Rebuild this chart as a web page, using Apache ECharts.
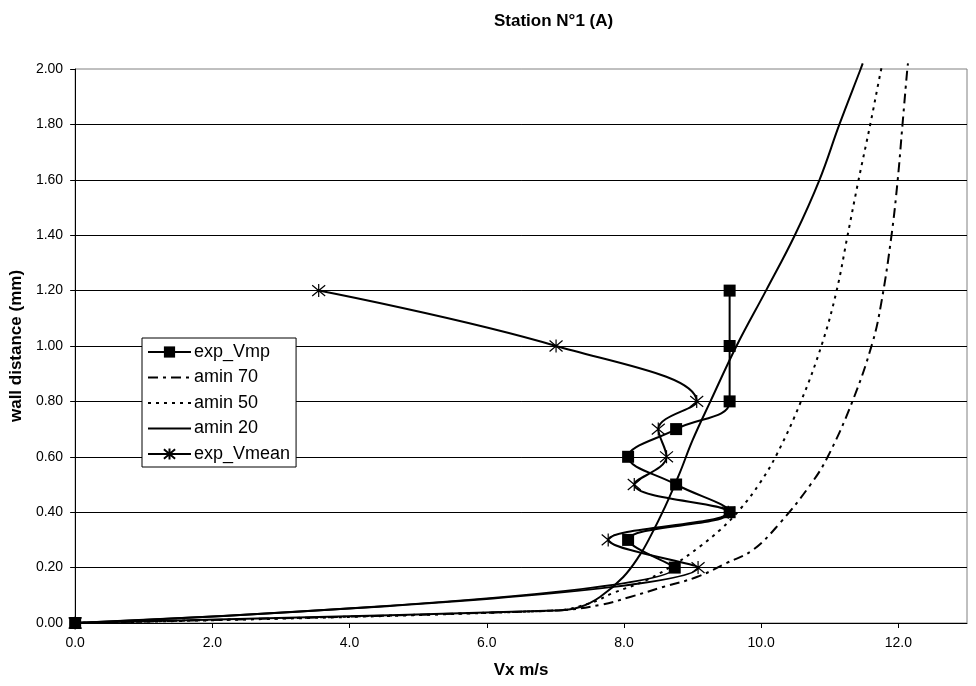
<!DOCTYPE html>
<html>
<head>
<meta charset="utf-8">
<script src="https://cdn.jsdelivr.net/npm/echarts@6/dist/echarts.min.js"></script>
<style>html,body{margin:0;padding:0;background:#fff}#c{width:976px;height:686px}</style>
</head>
<body>
<div id="c"></div>
<script>
// ---- data ----
const xTicks = [0, 2, 4, 6, 8, 10, 12];
const yTicks = [0, 0.2, 0.4, 0.6, 0.8, 1.0, 1.2, 1.4, 1.6, 1.8, 2.0];

const vmpY  = [0, 0.2, 0.3, 0.4, 0.5, 0.6, 0.7, 0.8, 1.0, 1.2];
const vmpX  = [0, 8.74, 8.06, 9.54, 8.76, 8.06, 8.76, 9.54, 9.54, 9.54];

const vmeanY = [0, 0.2, 0.3, 0.4, 0.5, 0.6, 0.7, 0.8, 1.0, 1.2];
const vmeanX = [0, 9.08, 7.77, 9.52, 8.15, 8.62, 8.50, 9.06, 7.01, 3.55];

const a70Y = [0, 0.045, 0.065, 0.094, 0.13, 0.166, 0.217, 0.264, 0.36, 0.5, 0.6, 0.8, 1.01, 1.155, 1.40, 1.60, 1.80, 2.00, 2.02];
const a70X = [0, 7.0, 7.65, 8.09, 8.57, 9.06, 9.50, 9.88, 10.27, 10.72, 10.97, 11.33, 11.62, 11.75, 11.90, 11.99, 12.06, 12.13, 12.14];

const a50Y = [0, 0.045, 0.072, 0.108, 0.155, 0.217, 0.275, 0.336, 0.41, 0.505, 0.61, 0.8, 1.01, 1.20, 1.40, 1.60, 1.80, 2.00, 2.015];
const a50X = [0, 7.0, 7.51, 7.84, 8.33, 8.77, 9.10, 9.40, 9.69, 9.98, 10.23, 10.58, 10.89, 11.10, 11.26, 11.42, 11.59, 11.75, 11.77];

const a20Y = [0, 0.045, 0.058, 0.094, 0.166, 0.245, 0.31, 0.42, 0.54, 0.66, 0.8, 1.00, 1.2, 1.40, 1.60, 1.80, 2.00, 2.02];
const a20X = [0, 7.0, 7.36, 7.65, 7.99, 8.23, 8.38, 8.60, 8.81, 9.00, 9.26, 9.64, 10.07, 10.49, 10.85, 11.14, 11.45, 11.48];

const pairs = (xs, ys) => xs.map((x, i) => [x, ys[i]]);

const FONT = 'Liberation Sans, Arial, sans-serif';
const asterisk = 'path://M0,-6L0,6M-5,-5L5,5M-5,5L5,-5';
const noMarker = {itemStyle: {opacity: 0}};

const chart = echarts.init(document.getElementById('c'), null, {renderer: 'canvas'});
chart.setOption({
  animation: false,
  backgroundColor: '#fff',
  title: {
    text: 'Station N°1 (A)',
    left: 489, top: 8,
    textStyle: {fontFamily: FONT, fontSize: 17, fontWeight: 'bold', color: '#000'}
  },
  grid: {left: 74, right: 9, top: 69, bottom: 63, show: true, borderColor: '#808080', borderWidth: 1, backgroundColor: 'transparent'},
  legend: {
    orient: 'vertical', left: 142, top: 338,
    backgroundColor: '#fff', borderColor: '#000', borderWidth: 1,
    padding: [5, 6, 4, 5], itemGap: 7.5, itemWidth: 43, itemHeight: 14,
    textStyle: {fontFamily: FONT, fontSize: 18, color: '#000', padding: [0,0,0,-2]},
    data: [
      {name: 'exp_Vmp'},
      Object.assign({name: 'amin 70'}, noMarker),
      Object.assign({name: 'amin 50'}, noMarker),
      Object.assign({name: 'amin 20'}, noMarker),
      {name: 'exp_Vmean'}
    ]
  },
  xAxis: {
    type: 'value', min: 0, max: 13, interval: 2,
    name: 'Vx m/s', nameLocation: 'middle', nameGap: 39,
    nameTextStyle: {fontFamily: FONT, fontSize: 17, fontWeight: 'bold', color: '#000'},
    axisLine: {lineStyle: {color: '#000', width: 1}},
    axisTick: {show: true, length: 5, lineStyle: {color: '#000'}, customValues: xTicks},
    axisLabel: {fontFamily: FONT, fontSize: 14, color: '#000', margin: 13, customValues: xTicks,
      formatter: v => v.toFixed(1)},
    splitLine: {show: false}
  },
  yAxis: {
    type: 'value', min: 0, max: 2, interval: 0.2,
    name: 'wall distance (mm)', nameLocation: 'middle', nameGap: 50,
    nameTextStyle: {fontFamily: FONT, fontSize: 17, fontWeight: 'bold', color: '#000'},
    axisLine: {show: true, lineStyle: {color: '#000', width: 1}},
    axisTick: {show: true, length: 5, lineStyle: {color: '#000'}},
    axisLabel: {fontFamily: FONT, fontSize: 14, color: '#000', margin: 12,
      formatter: v => v.toFixed(2)},
    splitLine: {show: true, showMaxLine: false, lineStyle: {color: '#000', width: 1}}
  },
  series: [
    {name: 'exp_Vmp', type: 'line', data: pairs(vmpX, vmpY), smooth: 0.4,
      symbol: 'rect', symbolSize: 12, showSymbol: true,
      lineStyle: {color: '#000', width: 2}, itemStyle: {color: '#000'}, z: 5},
    {name: 'amin 70', type: 'line', data: pairs(a70X, a70Y), smooth: 0.4, showSymbol: false, clip: false,
      lineStyle: {color: '#000', width: 2, type: [10, 5, 3, 5]}, itemStyle: {color: '#000'}},
    {name: 'amin 50', type: 'line', data: pairs(a50X, a50Y), smooth: 0.4, showSymbol: false, clip: false,
      lineStyle: {color: '#000', width: 2, type: [3, 5]}, itemStyle: {color: '#000'}},
    {name: 'amin 20', type: 'line', data: pairs(a20X, a20Y), smooth: 0.4, showSymbol: false, clip: false,
      lineStyle: {color: '#000', width: 2}, itemStyle: {color: '#000'}},
    {name: 'exp_Vmean', type: 'line', data: pairs(vmeanX, vmeanY), smooth: 0.4,
      symbol: asterisk, symbolSize: 13, showSymbol: true,
      lineStyle: {color: '#000', width: 2}, itemStyle: {color: '#000', borderColor: '#000', borderWidth: 1.2}, z: 4}
  ]
});
</script>
</body>
</html>
